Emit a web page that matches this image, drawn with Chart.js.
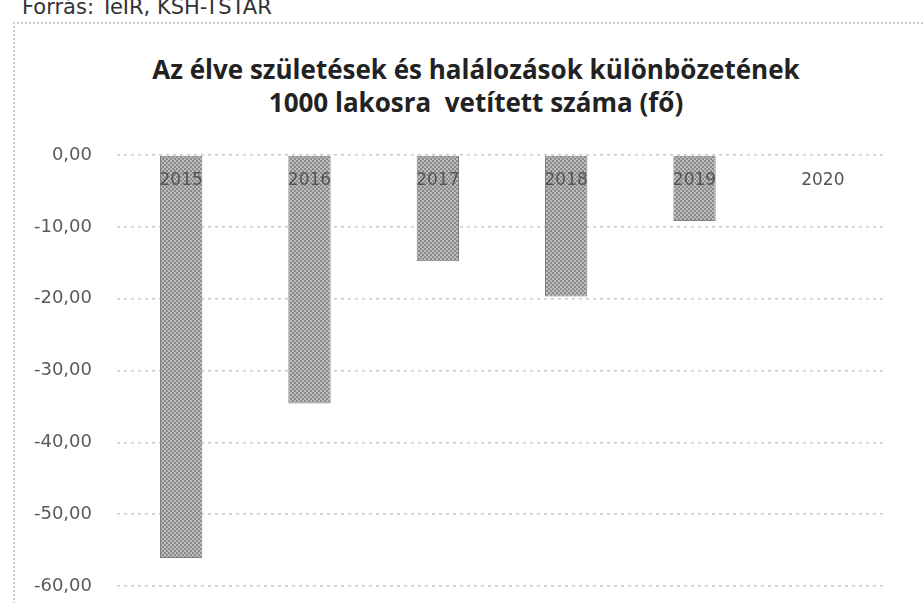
<!DOCTYPE html>
<html lang="hu">
<head>
    <meta charset="UTF-8">
    <title>Élve születések és halálozások különbözete</title>
    <script src="https://cdn.jsdelivr.net/npm/chart.js"></script>
    <style>
        html, body {
            margin: 0;
            padding: 0;
            background: #fff;
            overflow: hidden;
        }
        .source {
            position: absolute;
            left: 22px;
            top: -3px;
            line-height: 21px;
            font-family: "DejaVu Sans", sans-serif;
            font-size: 21px;
            color: #333;
        }
        .frame {
            position: absolute;
            left: 13px;
            top: 22px;
            width: 920px;
            height: 600px;
            border-left: 2px dotted #d0d0d0;
            border-top: 2px dotted #c8c8c8;
        }
        .title {
            position: absolute;
            left: 0;
            top: 53px;
            width: 952px;
            text-align: center;
            font-family: "Open Sans", sans-serif;
            font-weight: bold;
            font-size: 26px;
            line-height: 33px;
            color: #222;
            white-space: pre;
        }
        .chart-box {
            position: absolute;
            left: 0;
            top: 0;
            width: 924px;
            height: 603px;
        }
    </style>
</head>
<body>
    <div class="source">Forrás: TeIR, KSH-TSTAR</div>
    <div class="frame"></div>
    <div class="title" id="title"></div>
    <div class="chart-box">
        <canvas id="chart" width="924" height="603"></canvas>
    </div>

    <script>
        // adatok
        const years = ['2015', '2016', '2017', '2018', '2019', '2020'];
        const values = [-56.1, -34.6, -14.8, -19.7, -9.2, null];
        const yTicks = [0, -10, -20, -30, -40, -50, -60];
        const titleLines = [
            'Az élve születések és halálozások különbözetének',
            '1000 lakosra  vetített száma (fő)'
        ];

        document.getElementById('title').textContent = titleLines.join('\n');

        // szürke mintás kitöltés az oszlopokhoz
        function makePattern() {
            const c = document.createElement('canvas');
            c.width = 4;
            c.height = 4;
            const g = c.getContext('2d');
            g.fillStyle = '#bcbcbc';
            g.fillRect(0, 0, 4, 4);
            g.fillStyle = '#8a8a8a';
            g.fillRect(0, 0, 2, 2);
            g.fillRect(2, 2, 2, 2);
            return g.createPattern(c, 'repeat');
        }

        const ctx = document.getElementById('chart').getContext('2d');
        new Chart(ctx, {
            type: 'bar',
            data: {
                labels: years,
                datasets: [{
                    data: values,
                    backgroundColor: makePattern(),
                    borderColor: '#808080',
                    borderWidth: 1,
                    borderSkipped: false,
                    categoryPercentage: 1,
                    barPercentage: 0.33
                }]
            },
            options: {
                responsive: false,
                animation: false,
                layout: {
                    padding: { top: 155, left: 0, right: 37, bottom: 17 }
                },
                plugins: {
                    legend: { display: false },
                    tooltip: { enabled: false },
                    title: { display: false }
                },
                scales: {
                    x: {
                        position: { y: 0 },
                        afterFit: function (scale) { scale.height = 0; },
                        grid: { display: false, drawTicks: false },
                        border: { display: false },
                        ticks: {
                            z: 1,
                            color: '#555',
                            padding: 15,
                            font: { family: '"DejaVu Sans", sans-serif', size: 17 }
                        }
                    },
                    y: {
                        min: -60,
                        max: 0,
                        afterFit: function (scale) {
                            scale.width = 117;
                            scale.paddingTop = 10;
                            scale.paddingBottom = 10;
                        },
                        afterBuildTicks: function (scale) {
                            scale.ticks = yTicks.map(v => ({ value: v }));
                        },
                        grid: {
                            color: '#c8c8c8',
                            lineWidth: 1.5,
                            drawTicks: false
                        },
                        border: { display: false, dash: [3, 4] },
                        ticks: {
                            color: '#5a5a5a',
                            padding: 25,
                            font: { family: '"DejaVu Sans", sans-serif', size: 18 },
                            callback: v => v.toFixed(2).replace('.', ',')
                        }
                    }
                }
            }
        });
    </script>
</body>
</html>
